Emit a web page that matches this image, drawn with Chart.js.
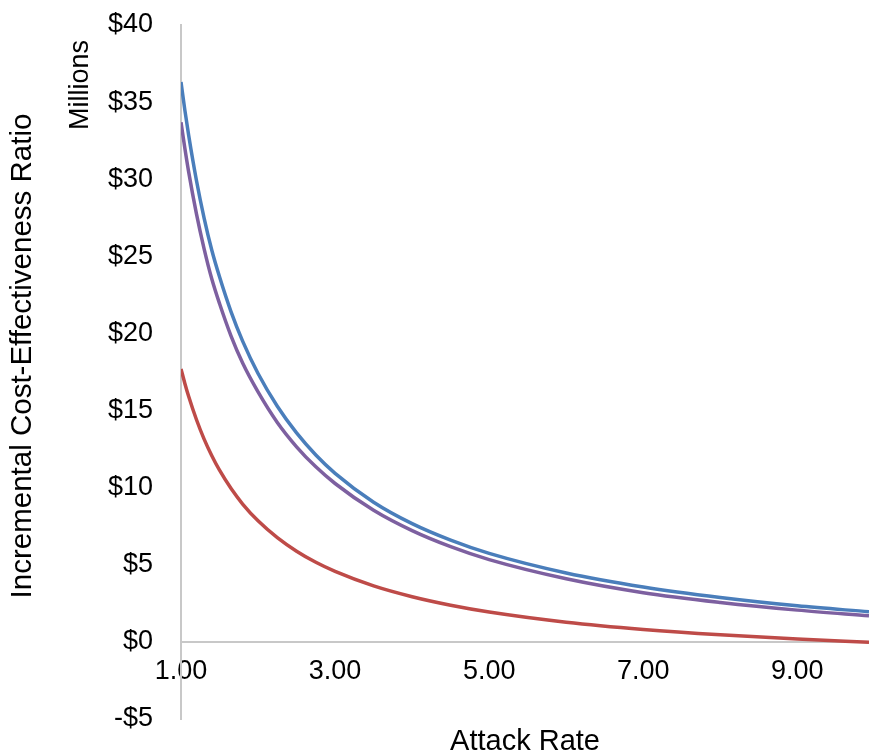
<!DOCTYPE html>
<html>
<head>
<meta charset="utf-8">
<script src="https://cdn.jsdelivr.net/npm/chart.js@4/dist/chart.umd.min.js"></script>
<style>
	body { margin: 0; background: #fff; }
	#wrap { width: 869px; height: 751px; }
</style>
</head>
<body>
<div id="wrap"><canvas id="icerChart" width="869" height="751"></canvas></div>
<script>
// attack rate samples and ICER values ($ millions)
var attackRate = [1, 1.05, 1.1, 1.2, 1.3, 1.4, 1.5, 1.65, 1.8, 2, 2.25, 2.5, 2.75, 3, 3.5, 4, 4.5, 5, 6, 7, 8, 9, 9.93];
var blueSeries = [36.3, 34.48, 32.83, 29.93, 27.48, 25.39, 23.67, 21.4, 19.5, 17.4, 15.28, 13.55, 12.12, 10.93, 9.06, 7.67, 6.6, 5.74, 4.47, 3.56, 2.88, 2.34, 1.95];
var purpleSeries = [33.7, 32.01, 30.46, 27.77, 25.49, 23.53, 21.94, 19.83, 18.08, 16.21, 14.23, 12.65, 11.35, 10.27, 8.53, 7.21, 6.17, 5.33, 4.09, 3.19, 2.56, 2.06, 1.69];
var redSeries = [17.7, 16.76, 15.91, 14.42, 13.15, 12.07, 11.13, 9.94, 8.94, 7.85, 6.76, 5.88, 5.16, 4.57, 3.63, 2.93, 2.38, 1.94, 1.28, 0.81, 0.46, 0.19, -0.02];
var xTicks = [1, 3, 5, 7, 9];
var yTicks = [-5, 0, 5, 10, 15, 20, 25, 30, 35, 40];

var font = 'Liberation Sans, Arial, sans-serif';

var toPoints = function(series) {
	return attackRate.map(function(x, i) { return { x: x, y: series[i] }; });
};

var titlesPlugin = {
	id: 'axisTitles',
	afterDraw: function(chart) {
		var ctx = chart.ctx;
		var area = chart.chartArea;
		ctx.save();
		ctx.fillStyle = '#000';
		ctx.font = '29px ' + font;
		ctx.textAlign = 'center';
		ctx.textBaseline = 'alphabetic';
		ctx.fillText('Attack Rate', (area.left + area.right) / 2, 750);

		ctx.font = '29.5px ' + font;
		ctx.textBaseline = 'middle';
		ctx.translate(23, 356);
		ctx.rotate(-Math.PI / 2);
		ctx.fillText('Incremental Cost-Effectiveness Ratio', 0, 0);
		ctx.restore();

		ctx.save();
		ctx.fillStyle = '#000';
		ctx.font = '27px ' + font;
		ctx.textAlign = 'center';
		ctx.textBaseline = 'middle';
		ctx.translate(81, 85);
		ctx.rotate(-Math.PI / 2);
		ctx.fillText('Millions', 0, 0);
		ctx.restore();
	}
};

var ctx = document.getElementById('icerChart');
var icerChart = new Chart(ctx, {
	type: 'line',
	data: {
		datasets: [{
			data: toPoints(blueSeries),
			borderColor: '#4A7EBB',
			borderWidth: 3.5
		}, {
			data: toPoints(purpleSeries),
			borderColor: '#7D60A0',
			borderWidth: 3.5
		}, {
			data: toPoints(redSeries),
			borderColor: '#BE4B48',
			borderWidth: 3.5
		}]
	},
	options: {
		responsive: false,
		animation: false,
		layout: { padding: { left: 0, right: 0, top: 25, bottom: 32 } },
		elements: {
			point: { radius: 0 },
			line: { cubicInterpolationMode: 'monotone' }
		},
		plugins: {
			legend: { display: false },
			tooltip: { enabled: false }
		},
		scales: {
			x: {
				type: 'linear',
				position: { y: 0 },
				min: 1,
				max: 9.93,
				afterBuildTicks: function(scale) {
					scale.ticks = xTicks.map(function(v) { return { value: v }; });
				},
				grid: { display: false, drawTicks: false },
				border: { display: true, color: '#c8c8c8', width: 2 },
				ticks: {
					padding: 13,
					color: '#000',
					font: { family: font, size: 27 },
					maxRotation: 0,
					callback: function(v) { return v.toFixed(2); }
				}
			},
			y: {
				min: -5,
				max: 40,
				afterBuildTicks: function(scale) {
					scale.ticks = yTicks.map(function(v) { return { value: v }; });
				},
				afterFit: function(scale) { scale.width = 181; },
				// tick length only pushes the labels left, the marks are not drawn
				grid: { display: false, drawTicks: true, tickLength: 28 },
				border: { display: true, color: '#c8c8c8', width: 2 },
				ticks: {
					padding: 0,
					color: '#000',
					font: { family: font, size: 27 },
					callback: function(v) { return (v < 0 ? '-$' : '$') + Math.abs(v); }
				}
			}
		}
	},
	plugins: [titlesPlugin]
});
</script>
</body>
</html>
